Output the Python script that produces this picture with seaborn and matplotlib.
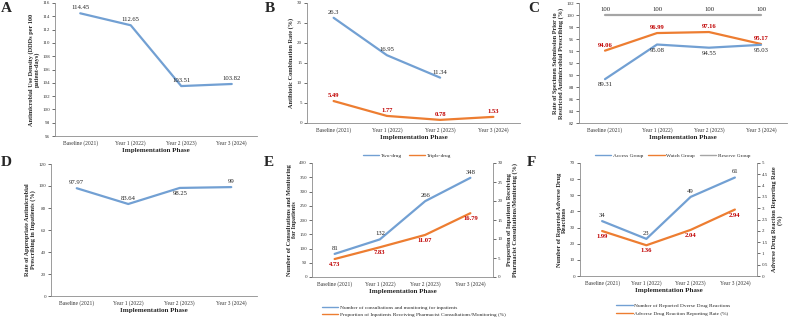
import numpy as np
import pandas as pd
import matplotlib
matplotlib.use("Agg")
import matplotlib.pyplot as plt
import seaborn as sns
from matplotlib.lines import Line2D

sns.set_theme(style="white")
plt.rcParams['font.family'] = ['Liberation Serif', 'DejaVu Serif']

phases = ["Baseline (2021)", "Year 1 (2022)", "Year 2 (2023)", "Year 3 (2024)"]

aud = [114.45, 112.65, 103.51, 103.82]
two_drug = [26.3, 16.95, 11.34]
triple_drug = [5.49, 1.77, 0.78, 1.53]
access_grp = [89.31, 95.08, 94.55, 95.03]
watch_grp = [94.06, 96.99, 97.16, 95.17]
reserve_grp = [100, 100, 100, 100]
appropriate = [97.97, 83.64, 98.25, 99]
consult_n = [81, 132, 266, 348]
consult_pct = [4.73, 7.83, 11.07, 16.79]
adr_n = [34, 23, 49, 61]
adr_rate = [1.99, 1.36, 2.04, 2.94]

BLUE = "#72A0D3"
ORANGE = "#ED7D31"
GRAY = "#A5A5A5"
RED = "#C00000"
W, H = 788, 319
XS = 4.0     # x tick labels
YS = 3.6     # y tick labels
DS = 4.8     # data labels
LS = 3.9     # legend
LW = 1.6

fig = plt.figure(figsize=(W / 100, H / 100), dpi=100)


def mkax(l, t, r, b):
    return fig.add_axes([l / W, 1 - b / H, (r - l) / W, (b - t) / H])


def style(ax, ylim, yticks, ylabel, ylabel_pad=2):
    ax.set_xlim(-0.5, 3.5)
    ax.set_ylim(*ylim)
    ax.set_yticks(yticks)
    ax.set_yticklabels([f"{v:g}" for v in yticks])
    ax.set_xticks(range(4))
    ax.set_xticklabels(phases)
    for s in ["top", "right"]:
        ax.spines[s].set_visible(False)
    for s in ["left", "bottom"]:
        ax.spines[s].set_color("#8C8C8C")
        ax.spines[s].set_linewidth(0.6)
    ax.tick_params(axis="y", labelsize=YS, length=2, width=0.5, pad=1.5,
                   colors="#333333", direction="out", left=True)
    ax.tick_params(axis="x", labelsize=XS, length=0, pad=3, colors="#333333")
    ax.set_xlabel("Implementation Phase", fontsize=5, fontweight="bold", labelpad=1.5)
    ax.set_ylabel(ylabel, fontsize=4.5, fontweight="bold", labelpad=ylabel_pad, linespacing=1.0)
    ax.grid(False)
    ax.set_facecolor("white")


def style_right(ax, ylim, yticks, ylabel):
    ax.set_ylim(*ylim)
    ax.set_yticks(yticks)
    ax.set_yticklabels([f"{v:g}" for v in yticks])
    for s in ["top", "left", "bottom"]:
        ax.spines[s].set_visible(False)
    ax.spines["right"].set_color("#8C8C8C")
    ax.spines["right"].set_linewidth(0.6)
    ax.tick_params(axis="y", labelsize=YS, length=2, width=0.5, pad=1.5,
                   colors="#333333", right=True)
    ax.set_ylabel(ylabel, fontsize=4.5, fontweight="bold", labelpad=3, linespacing=1.0)
    ax.grid(False)


def line(ax, vals, color, lw=LW):
    df = pd.DataFrame({"x": np.arange(len(vals)), "y": vals})
    sns.lineplot(data=df, x="x", y="y", ax=ax, color=color, linewidth=lw, legend=False)
    ax.set_xlabel("")
    ax.set_ylabel("")


def labels(ax, vals, where, color="#222222", off=2.2, bold=False):
    for i, v in enumerate(vals):
        w = where[i] if isinstance(where, (list, tuple)) else where
        dy = off if w == "a" else -off
        va = "bottom" if w == "a" else "top"
        ax.annotate(f"{v:g}", (i, v), xytext=(0, dy), textcoords="offset points",
                    ha="center", va=va, fontsize=DS, color=color,
                    fontweight="bold" if bold else "normal")


def letter(x, y, s):
    fig.text(x / W, 1 - y / H, s, fontsize=11, fontweight="bold", ha="left", va="center")


def legend(ax, handles_colors, names, **kw):
    hs = [Line2D([], [], color=c, lw=1) for c in handles_colors]
    ax.legend(handles=hs, labels=names, frameon=False, fontsize=LS,
              handlelength=3, handletextpad=0.3, **kw)


# Panel A
axA = mkax(55, 3, 257, 136)
line(axA, aud, BLUE)
style(axA, (96, 116), list(range(96, 117, 2)),
      "Antimicrobial Use Density (DDDs per 100\npatient-days)")
labels(axA, aud, "a")
letter(1, 9, "A")

# Panel B
axB = mkax(307, 3, 520, 123)
line(axB, two_drug, BLUE)
line(axB, triple_drug, ORANGE)
style(axB, (0, 30), list(range(0, 31, 5)), "Antibiotic Combination Rate (%)")
labels(axB, two_drug, "a")
labels(axB, triple_drug, "a", color=RED, bold=True)
letter(265, 9, "B")
legend(axB, [BLUE, ORANGE], ["Two-drug", "Triple-drug"], loc="center",
       bbox_to_anchor=(0.47, -0.27), ncol=2, columnspacing=1.2)

# Panel C
axC = mkax(579, 3, 787, 123)
line(axC, reserve_grp, GRAY)
line(axC, watch_grp, ORANGE)
line(axC, access_grp, BLUE)
style(axC, (82, 102), list(range(82, 103, 2)),
      "Rate of Specimen Submission Prior to\nRestricted Antimicrobial Prescribing (%)")
labels(axC, reserve_grp, "a")
labels(axC, watch_grp, "a", color=RED, bold=True)
labels(axC, access_grp, "b")
letter(528, 9, "C")
legend(axC, [BLUE, ORANGE, GRAY], ["Access Group", "Watch Group", "Reserve Group"],
       loc="center", bbox_to_anchor=(0.45, -0.27), ncol=3, columnspacing=1.0)

# Panel D
axD = mkax(51, 164, 257, 296)
line(axD, appropriate, BLUE)
style(axD, (0, 120), list(range(0, 121, 20)),
      "Rate of Appropriate Antimicrobial\nPrescribing in Inpatients (%)")
labels(axD, appropriate, ["a", "a", "b", "a"])
letter(1, 163, "D")

# Panel E
axE = mkax(312, 163, 493, 277)
line(axE, consult_n, BLUE)
style(axE, (0, 400), list(range(0, 401, 50)),
      "Number of Consultations and Monitoring\nfor Inpatients")
axE2 = axE.twinx()
line(axE2, consult_pct, ORANGE)
style_right(axE2, (0, 30), list(range(0, 31, 5)),
            "Proportion of Inpatients Receiving\nPharmacist Consultations/Monitoring (%)")
labels(axE, consult_n, "a")
labels(axE2, consult_pct, "b", color=RED, bold=True)
letter(264, 163, "E")
legend(axE, [BLUE, ORANGE],
       ["Number of consultations and monitoring for inpatients",
        "Proportion of Inpatients Receiving Pharmacist Consultations/Monitoring (%)"],
       loc="upper left", bbox_to_anchor=(0.04, -0.22), ncol=1, labelspacing=0.45, borderpad=0)

# Panel F
axF = mkax(580, 163, 757, 276)
line(axF, adr_n, BLUE)
style(axF, (0, 70), list(range(0, 71, 10)),
      "Number of Reported Adverse Drug\nReactions")
axF2 = axF.twinx()
line(axF2, adr_rate, ORANGE)
style_right(axF2, (0, 5), [0, 0.5, 1, 1.5, 2, 2.5, 3, 3.5, 4, 4.5, 5],
            "Adverse Drug Reaction Reporting Rate\n(%)")
labels(axF, adr_n, "a")
labels(axF2, adr_rate, "b", color=RED, bold=True)
letter(527, 163, "F")
legend(axF, [BLUE, ORANGE],
       ["Number of Reported Dverse Drug Reactions",
        "Adverse Drug Reaction Reporting Rate (%)"],
       loc="upper left", bbox_to_anchor=(0.19, -0.22), ncol=1, labelspacing=0.45, borderpad=0)

fig.savefig("out.png", dpi=100, facecolor="white")
